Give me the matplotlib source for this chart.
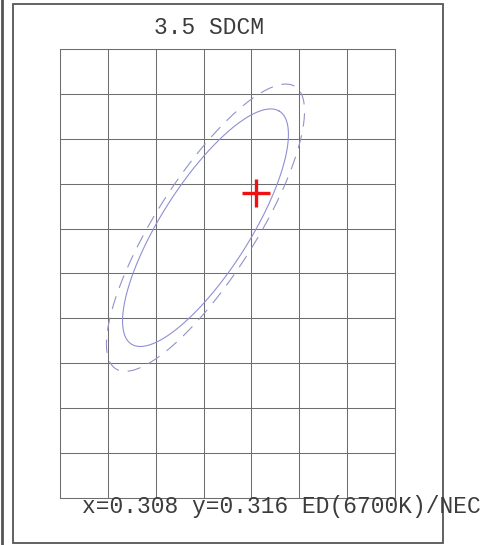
import numpy as np
import matplotlib
matplotlib.use('Agg')
from matplotlib import pyplot as plt
from matplotlib.patches import Rectangle
from matplotlib.lines import Line2D

# Chromaticity window and grid step
x_range = (0.2875, 0.3225)
y_range = (0.282, 0.332)
grid_step = 0.005

# Target point
target_x, target_y = 0.308, 0.316

# Tolerance ellipses: centre, semi-axes, angle (deg)
ell_center = (0.3027, 0.3121)
solid_axes = (0.0151, 0.0047)
dashed_axes = (0.0183, 0.0053)
ell_angle = 59.5

title = '3.5 SDCM'
caption = 'x=0.308 y=0.316 ED(6700K)/NEC'


def ellipse_pts(center, axes, angle_deg, n=200):
    t = np.linspace(0, 2 * np.pi, n)
    th = np.radians(angle_deg)
    a, b = axes
    xs = center[0] + a * np.cos(t) * np.cos(th) - b * np.sin(t) * np.sin(th)
    ys = center[1] + a * np.cos(t) * np.sin(th) + b * np.sin(t) * np.cos(th)
    return xs, ys


W, H = 494, 545
fig = plt.figure(figsize=(W / 100, H / 100), dpi=100)

# outer frame and left edge bar
fig.patches.append(Rectangle((13 / W, 1 - 543 / H), 430 / W, 539 / H,
                             transform=fig.transFigure, fill=False,
                             edgecolor='#555555', linewidth=1.3))
fig.lines.append(Line2D([1.5 / W, 1.5 / W], [0, 1], transform=fig.transFigure,
                        color='#555555', linewidth=2))

ax = fig.add_axes([60 / W, 1 - 498 / H, 335 / W, 449 / H])
ax.set_xlim(*x_range)
ax.set_ylim(*y_range)
ax.set_xticks(np.arange(x_range[0], x_range[1] + 1e-9, grid_step))
ax.set_yticks(np.arange(y_range[0], y_range[1] + 1e-9, grid_step))
ax.tick_params(length=0, labelbottom=False, labelleft=False)
ax.grid(True, color='#6e6e6e', linewidth=0.75)
for s in ax.spines.values():
    s.set_color('#6e6e6e')
    s.set_linewidth(0.75)

xs, ys = ellipse_pts(ell_center, solid_axes, ell_angle)
ax.plot(xs, ys, color='#8f8fd4', linewidth=0.8)
xs, ys = ellipse_pts(ell_center, dashed_axes, ell_angle)
ax.plot(xs, ys, color='#9292c8', linewidth=0.8, dashes=(12, 8))

ax.plot(target_x, target_y, marker='+', color='#ee1111', markersize=20,
        markeredgewidth=2.4)

fig.text(209 / W, 1 - 28 / H, title, ha='center', va='center',
         family='Liberation Mono', fontsize=16.5, color='#3c3c3c')
fig.text(82 / W, 1 - 506 / H, caption, ha='left', va='center',
         family='Liberation Mono', fontsize=16.5, color='#3c3c3c')

fig.savefig('out.png', dpi=100)
